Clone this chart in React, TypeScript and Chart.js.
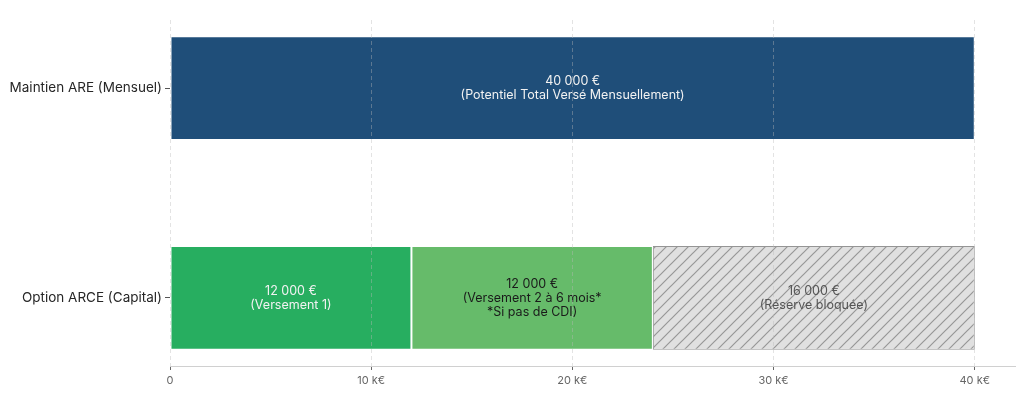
import React, { useEffect, useRef } from 'react';
import { Chart, registerables } from 'chart.js';

Chart.register(...registerables);

const categories = ['Option ARCE (Capital)', 'Maintien ARE (Mensuel)'];
const maintienValues = [null, 40];
const versement1Values = [12, null];
const versement2Values = [12, null];
const reserveValues = [16, null];
const maintienLabels = ['', '40 000 €\n(Potentiel Total Versé Mensuellement)'];
const versement1Labels = ['12 000 €\n(Versement 1)', ''];
const versement2Labels = ['12 000 €\n(Versement 2 à 6 mois*\n*Si pas de CDI)', ''];
const reserveLabels = ['16 000 €\n(Réserve bloquée)', ''];
const xTicks = [0, 10, 20, 30, 40];
const xTickLabels = ['0', '10 k€', '20 k€', '30 k€', '40 k€'];

const FONT = 'Inter, "Noto Sans", sans-serif';

function makeHatch(): CanvasPattern | string {
  const s = 11;
  const c = document.createElement('canvas');
  c.width = s;
  c.height = s;
  const g = c.getContext('2d');
  if (!g) return '#e0e0e0';
  g.fillStyle = '#e0e0e0';
  g.fillRect(0, 0, s, s);
  g.strokeStyle = '#979797';
  g.lineWidth = 1.2;
  g.beginPath();
  g.moveTo(0, s);
  g.lineTo(s, 0);
  g.moveTo(-3, 3);
  g.lineTo(3, -3);
  g.moveTo(s - 3, s + 3);
  g.lineTo(s + 3, s - 3);
  g.stroke();
  return g.createPattern(c, 'repeat') || '#e0e0e0';
}

const toPoints = (vals: (number | null)[]) => vals.map((v, i) => ({ x: v, y: i }));

const barLabelPlugin = {
  id: 'barLabels',
  afterDatasetsDraw(chart: any) {
    const ctx = chart.ctx;
    chart.data.datasets.forEach((ds: any, di: number) => {
      const meta = chart.getDatasetMeta(di);
      meta.data.forEach((el: any, i: number) => {
        const txt = ds.labelTexts ? ds.labelTexts[i] : '';
        if (!txt) return;
        const p = el.getProps(['x', 'y', 'base'], true);
        const cx = (p.x + p.base) / 2;
        const lines = txt.split('\n');
        ctx.save();
        ctx.font = `12.5px ${FONT}`;
        ctx.fillStyle = ds.labelColor;
        ctx.textAlign = 'center';
        ctx.textBaseline = 'middle';
        lines.forEach((l: string, k: number) => {
          ctx.fillText(l, cx, p.y + (k - (lines.length - 1) / 2) * 14);
        });
        ctx.restore();
      });
    });
  },
};

export default function App() {
  const ref = useRef<HTMLCanvasElement>(null);
  useEffect(() => {
    document.body.style.margin = '0';
    if (!ref.current) return;
    const hatch = makeHatch();
    const chart = new Chart(ref.current, {
      type: 'bar',
      data: {
        datasets: [
          {
            label: 'Maintien ARE',
            data: toPoints(maintienValues) as any,
            backgroundColor: '#1f4e79',
            borderColor: '#ffffff',
            borderWidth: 1,
            borderSkipped: false,
            labelTexts: maintienLabels,
            labelColor: '#f2f2f2',
          } as any,
          {
            label: 'Versement 1',
            data: toPoints(versement1Values) as any,
            backgroundColor: '#27ae60',
            borderColor: '#ffffff',
            borderWidth: 1,
            borderSkipped: false,
            labelTexts: versement1Labels,
            labelColor: '#f2f2f2',
          } as any,
          {
            label: 'Versement 2',
            data: toPoints(versement2Values) as any,
            backgroundColor: '#66bb6a',
            borderColor: '#ffffff',
            borderWidth: 1,
            borderSkipped: false,
            labelTexts: versement2Labels,
            labelColor: '#1a1a1a',
          } as any,
          {
            label: 'Réserve',
            data: toPoints(reserveValues) as any,
            backgroundColor: hatch,
            borderColor: '#959595',
            borderWidth: 1,
            borderSkipped: false,
            labelTexts: reserveLabels,
            labelColor: '#555555',
          } as any,
        ],
      },
      options: {
        indexAxis: 'y',
        animation: false,
        responsive: true,
        maintainAspectRatio: false,
        layout: { padding: { left: 0, right: 9, top: 20, bottom: 0 } },
        datasets: { bar: { categoryPercentage: 1, barPercentage: 0.495 } },
        plugins: { legend: { display: false }, tooltip: { enabled: false } },
        scales: {
          x: {
            type: 'linear',
            min: 0,
            max: 42,
            stacked: true,
            offset: false,
            afterBuildTicks: (s: any) => {
              s.ticks = xTicks.map((v) => ({ value: v }));
            },
            afterFit: (s: any) => {
              s.height = 35;
            },
            ticks: {
              padding: 4,
              color: '#666666',
              font: { family: FONT, size: 11 },
              callback: (v: any) => xTickLabels[xTicks.indexOf(Number(v))],
            },
            grid: {
              z: 1,
              offset: false,
              color: 'rgba(185,185,185,0.4)',
              lineWidth: 1,
              tickLength: 4,
              tickColor: '#666666',
            },
            border: { display: true, z: 2, color: '#d0d0d0', dash: [4, 3] },
          },
          y: {
            type: 'linear',
            min: -0.325,
            max: 1.325,
            stacked: true,
            offset: false,
            afterBuildTicks: (s: any) => {
              s.ticks = categories.map((_, i) => ({ value: i }));
            },
            afterFit: (s: any) => {
              s.width = 170;
            },
            ticks: {
              padding: 3,
              color: '#262626',
              font: { family: FONT, size: 13.5 },
              callback: (v: any) => categories[Number(v)],
            },
            grid: {
              offset: false,
              drawOnChartArea: false,
              tickLength: 5,
              tickColor: '#555555',
            },
            border: { display: false },
          },
        },
      } as any,
      plugins: [barLabelPlugin],
    });
    return () => chart.destroy();
  }, []);
  return (
    <div style={{ width: 1024, height: 401, position: 'relative' }}>
      <canvas ref={ref} />
    </div>
  );
}
